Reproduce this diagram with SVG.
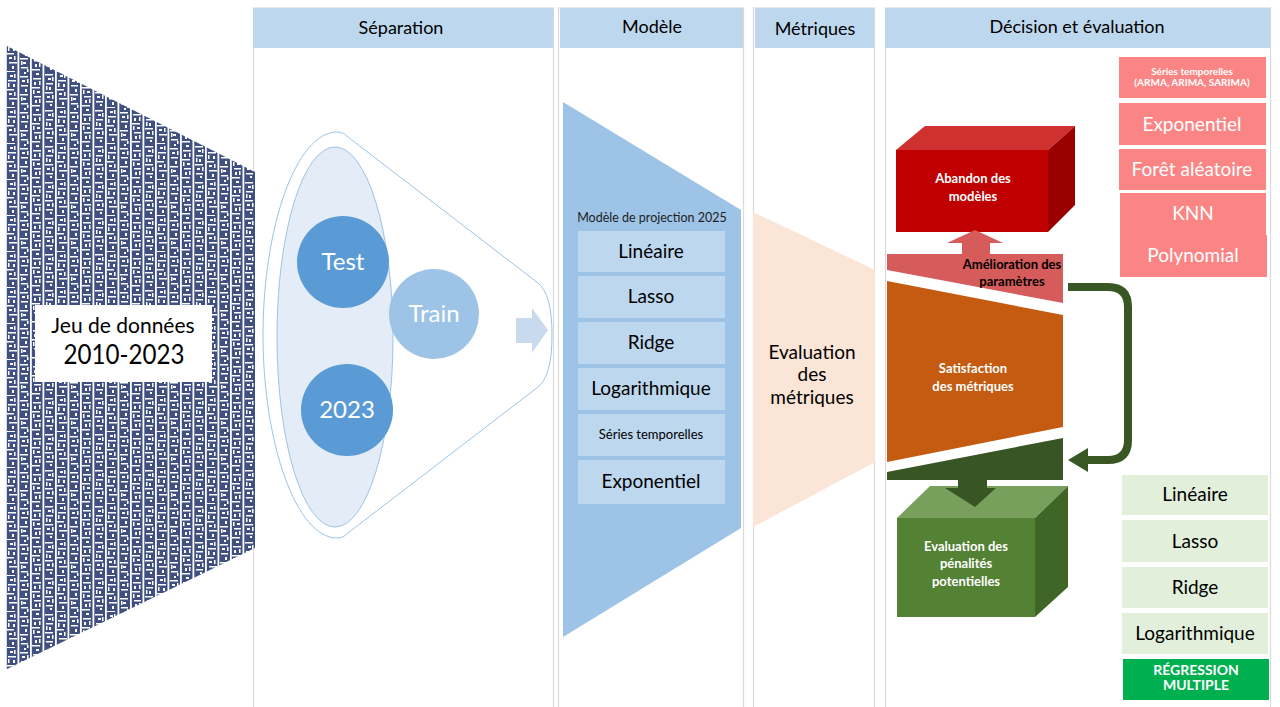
<svg xmlns="http://www.w3.org/2000/svg" width="1280" height="707" viewBox="0 0 1280 707">
  <style>
    .hdr { fill: #bdd7ee; }
    .hdr-t { font-family: Lato, "Open Sans", sans-serif; font-size: 18px; fill: #000; text-anchor: middle; }
    .col { fill: none; stroke: #d9d9d9; stroke-width: 1.2; }
    .lbl { font-family: Lato, "Open Sans", sans-serif; text-anchor: middle; }
    .mbox { fill: #bdd7ee; }
    .pink { fill: #fb8585; }
    .lg { fill: #e2efda; }
    .wb { fill: #fff; font-weight: bold; font-size: 13px; }
    .gap { fill: #fff; }
  </style>
  <defs>
    <!-- dense navy speckle texture, four 12.5px columns per tile -->
    <pattern id="dataTex" patternUnits="userSpaceOnUse" x="5" y="0" width="50" height="36">
      <rect width="50" height="36" fill="#3f5081"/>
      <rect class="gap" x="0" y="0" width="1.8" height="36"/>
      <rect class="gap" x="12.5" y="0" width="1.8" height="36"/>
      <rect class="gap" x="25" y="0" width="1.8" height="36"/>
      <rect class="gap" x="37.5" y="0" width="1.8" height="36"/>
      <!-- column 1 -->
      <rect class="gap" x="3" y="8" width="8" height="1.5"/>
      <rect class="gap" x="2" y="17" width="7" height="1.5"/>
      <rect class="gap" x="4" y="26" width="8" height="1.5"/>
      <rect class="gap" x="2" y="35" width="8" height="1"/>
      <rect class="gap" x="5" y="3" width="3" height="2"/>
      <rect class="gap" x="8" y="12" width="2" height="3"/>
      <rect class="gap" x="4" y="21" width="3" height="2"/>
      <rect class="gap" x="7" y="30" width="2" height="3"/>
      <rect class="gap" x="9" y="2" width="1.5" height="4"/>
      <rect class="gap" x="3" y="11" width="1.5" height="4"/>
      <rect class="gap" x="9" y="20" width="1.5" height="4"/>
      <!-- column 2 -->
      <rect class="gap" x="15" y="4" width="8" height="1.5"/>
      <rect class="gap" x="16" y="13" width="7" height="1.5"/>
      <rect class="gap" x="15" y="22" width="8" height="1.5"/>
      <rect class="gap" x="16" y="31" width="7" height="1.5"/>
      <rect class="gap" x="19" y="0" width="2" height="2"/>
      <rect class="gap" x="17" y="8" width="3" height="2"/>
      <rect class="gap" x="20" y="17" width="2" height="3"/>
      <rect class="gap" x="18" y="26" width="3" height="2"/>
      <rect class="gap" x="22" y="7" width="1.5" height="4"/>
      <rect class="gap" x="16" y="25" width="1.5" height="4"/>
      <rect class="gap" x="22" y="33" width="1.5" height="3"/>
      <!-- column 3 -->
      <rect class="gap" x="28" y="6" width="8" height="1.5"/>
      <rect class="gap" x="27" y="15" width="8" height="1.5"/>
      <rect class="gap" x="29" y="24" width="7" height="1.5"/>
      <rect class="gap" x="27" y="33" width="8" height="1.5"/>
      <rect class="gap" x="31" y="1" width="3" height="2"/>
      <rect class="gap" x="29" y="10" width="2" height="3"/>
      <rect class="gap" x="32" y="19" width="3" height="2"/>
      <rect class="gap" x="30" y="28" width="2" height="3"/>
      <rect class="gap" x="34" y="9" width="1.5" height="4"/>
      <rect class="gap" x="28" y="18" width="1.5" height="4"/>
      <rect class="gap" x="34" y="27" width="1.5" height="4"/>
      <!-- column 4 -->
      <rect class="gap" x="40" y="2" width="8" height="1.5"/>
      <rect class="gap" x="41" y="11" width="7" height="1.5"/>
      <rect class="gap" x="40" y="20" width="8" height="1.5"/>
      <rect class="gap" x="41" y="29" width="7" height="1.5"/>
      <rect class="gap" x="43" y="6" width="3" height="2"/>
      <rect class="gap" x="44" y="15" width="2" height="3"/>
      <rect class="gap" x="42" y="24" width="3" height="2"/>
      <rect class="gap" x="45" y="32" width="2" height="2"/>
      <rect class="gap" x="47" y="5" width="1.5" height="4"/>
      <rect class="gap" x="41" y="14" width="1.5" height="4"/>
      <rect class="gap" x="47" y="23" width="1.5" height="4"/>
    </pattern>
    <marker id="greenHead" markerUnits="userSpaceOnUse" markerWidth="22" markerHeight="26" refX="0" refY="12" orient="auto">
      <path d="M0,0 L20,12 L0,24 Z" fill="#385723"/>
    </marker>
  </defs>

  <rect width="1280" height="707" fill="#fff"/>

  <!-- column outlines -->
  <g id="columns">
    <rect class="col" x="253.5" y="8" width="300" height="720"/>
    <rect class="col" x="558.5" y="8" width="185" height="720"/>
    <rect class="col" x="753.5" y="8" width="121" height="720"/>
    <rect class="col" x="885.5" y="8" width="385" height="720"/>
  </g>

  <!-- column headers -->
  <g id="headers">
    <rect class="hdr" x="253" y="8" width="300" height="40"/>
    <text class="hdr-t" x="401" y="34">Séparation</text>
    <rect class="hdr" x="560" y="8" width="183" height="40"/>
    <text class="hdr-t" x="652" y="33">Modèle</text>
    <rect class="hdr" x="755" y="8" width="119" height="40"/>
    <text class="hdr-t" x="815" y="35">Métriques</text>
    <rect class="hdr" x="885" y="8" width="385" height="40"/>
    <text class="hdr-t" x="1077" y="33">Décision et évaluation</text>
  </g>

  <!-- dataset -->
  <g id="dataset">
    <polygon points="5,45 255,172 255,548 5,670" fill="url(#dataTex)"/>
    <rect x="35" y="305" width="177" height="77" fill="#fff"/>
    <text class="lbl" x="123" y="333" font-size="21">Jeu de données</text>
    <text class="lbl" x="124" y="364" font-size="27" textLength="121" lengthAdjust="spacingAndGlyphs">2010-2023</text>
  </g>

  <!-- separation -->
  <g id="separation">
    <path d="M337,132 C296,132 263,228 263,335 C263,442 296,538 337,538 C342,538 345,536 348,533 L538,387 Q552,376 552,335 Q552,294 538,283 L348,137 C345,134 342,132 337,132 Z" fill="#fff" stroke="#9dc3e6" stroke-width="1"/>
    <ellipse cx="335" cy="337" rx="58" ry="190" fill="#e4ecf7" stroke="#9dc3e6" stroke-width="1"/>
    <g id="test">
      <circle cx="343" cy="262" r="46" fill="#5b9bd5"/>
      <text class="lbl" x="343" y="270" font-size="24" fill="#fff">Test</text>
    </g>
    <g id="y2023">
      <circle cx="347" cy="410" r="46" fill="#5b9bd5"/>
      <text class="lbl" x="347" y="418" font-size="24" fill="#fff">2023</text>
    </g>
    <g id="train">
      <circle cx="434" cy="314" r="45" fill="#9dc3e6"/>
      <text class="lbl" x="434" y="322" font-size="24" fill="#fff">Train</text>
    </g>
    <polygon points="516,318 532,318 532,308 548,330 532,353 532,343 516,343" fill="#cadaee"/>
  </g>

  <!-- model -->
  <g id="modele">
    <polygon points="563,102 741,210 741,528 563,637" fill="#9dc3e6"/>
    <text class="lbl" x="652" y="222" font-size="12.5" fill="#222">Modèle de projection 2025</text>
    <rect class="mbox" x="578" y="231" width="147" height="41"/>
    <text class="lbl" x="651" y="258" font-size="19">Linéaire</text>
    <rect class="mbox" x="578" y="276" width="147" height="42"/>
    <text class="lbl" x="651" y="303" font-size="19">Lasso</text>
    <rect class="mbox" x="578" y="322" width="147" height="42"/>
    <text class="lbl" x="651" y="349" font-size="19">Ridge</text>
    <rect class="mbox" x="578" y="368" width="147" height="42"/>
    <text class="lbl" x="651" y="395" font-size="19">Logarithmique</text>
    <rect class="mbox" x="578" y="414" width="147" height="42"/>
    <text class="lbl" x="651" y="439" font-size="13">Séries temporelles</text>
    <rect class="mbox" x="578" y="460" width="147" height="44"/>
    <text class="lbl" x="651" y="488" font-size="19">Exponentiel</text>
  </g>

  <!-- metrics -->
  <g id="metriques">
    <polygon points="753,212 875,270 875,462 753,527" fill="#fbe5d6"/>
    <text class="lbl" x="812" y="359" font-size="19">Evaluation</text>
    <text class="lbl" x="812" y="381" font-size="19">des</text>
    <text class="lbl" x="812" y="404" font-size="19">métriques</text>
  </g>

  <!-- decision -->
  <g id="abandon">
    <polygon points="896,150 925,126 1075,126 1048,150" fill="#cf3131"/>
    <polygon points="1048,150 1075,126 1075,205 1048,232" fill="#9a0000"/>
    <rect x="896" y="150" width="152" height="82" fill="#c00000"/>
    <text class="lbl wb" x="973" y="183">Abandon des</text>
    <text class="lbl wb" x="973" y="201">modèles</text>
  </g>

  <g id="amelioration">
    <polygon points="947,243 975,230 1003,243 990,243 990,255 962,255 962,243" fill="#d65b5b"/>
    <polygon points="887,254 1063,254 1063,303 887,270" fill="#d65b5b"/>
    <text class="lbl" x="1012" y="269" font-size="13" font-weight="bold" fill="#000">Amélioration des</text>
    <text class="lbl" x="1012" y="286" font-size="13" font-weight="bold" fill="#000">paramètres</text>
  </g>

  <g id="satisfaction">
    <polygon points="887,281 1063,315 1063,427 887,462" fill="#c55a11"/>
    <text class="lbl wb" x="973" y="373">Satisfaction</text>
    <text class="lbl wb" x="973" y="391">des métriques</text>
  </g>

  <g id="penalites">
    <polygon points="897,518 930,486 1068,486 1035,518" fill="#78a05c"/>
    <polygon points="1035,518 1068,486 1068,587 1035,617" fill="#3f6527"/>
    <rect x="897" y="518" width="138" height="99" fill="#548235"/>
    <text class="lbl wb" x="966" y="551">Evaluation des</text>
    <text class="lbl wb" x="966" y="568">pénalités</text>
    <text class="lbl wb" x="966" y="586">potentielles</text>
  </g>

  <g id="validation">
    <polygon points="887,472 1063,438 1063,480 887,480" fill="#375623"/>
    <polygon points="958,479 987,479 987,488 996,488 975,507 945,488 958,488" fill="#375623"/>
  </g>

  <!-- feedback loop -->
  <g id="connectors">
    <path d="M1068,287 H1108 Q1128,287 1128,307 V440 Q1128,460 1108,460 H1088" fill="none" stroke="#385723" stroke-width="8" marker-end="url(#greenHead)"/>
  </g>

  <!-- other candidate models -->
  <g id="autres">
    <rect class="pink" x="1119" y="57" width="147" height="41"/>
    <text class="lbl" x="1192" y="75" font-size="10" font-weight="bold" fill="#fff">Séries temporelles</text>
    <text class="lbl" x="1192" y="86" font-size="10" font-weight="bold" fill="#fff">(ARMA, ARIMA, SARIMA)</text>
    <rect class="pink" x="1119" y="103" width="147" height="42"/>
    <text class="lbl" x="1192" y="131" font-size="19" fill="#fff">Exponentiel</text>
    <rect class="pink" x="1119" y="149" width="147" height="41"/>
    <text class="lbl" x="1192" y="176" font-size="19" fill="#fff">Forêt aléatoire</text>
    <rect class="pink" x="1120" y="193" width="146" height="44"/>
    <text class="lbl" x="1193" y="220" font-size="19" fill="#fff">KNN</text>
    <rect class="pink" x="1120" y="235" width="147" height="42"/>
    <text class="lbl" x="1193" y="262" font-size="19" fill="#fff">Polynomial</text>
  </g>

  <!-- multiple regression models -->
  <g id="regression">
    <rect class="lg" x="1122" y="475" width="146" height="40"/>
    <text class="lbl" x="1195" y="501" font-size="19">Linéaire</text>
    <rect class="lg" x="1122" y="520" width="146" height="42"/>
    <text class="lbl" x="1195" y="548" font-size="19">Lasso</text>
    <rect class="lg" x="1122" y="567" width="146" height="41"/>
    <text class="lbl" x="1195" y="594" font-size="19">Ridge</text>
    <rect class="lg" x="1122" y="613" width="146" height="41"/>
    <text class="lbl" x="1195" y="640" font-size="19">Logarithmique</text>
    <rect x="1123" y="659" width="146" height="41" fill="#00b050"/>
    <text class="lbl" x="1196" y="675" font-size="14" font-weight="bold" fill="#fff">RÉGRESSION</text>
    <text class="lbl" x="1196" y="690" font-size="14" font-weight="bold" fill="#fff">MULTIPLE</text>
  </g>
</svg>
